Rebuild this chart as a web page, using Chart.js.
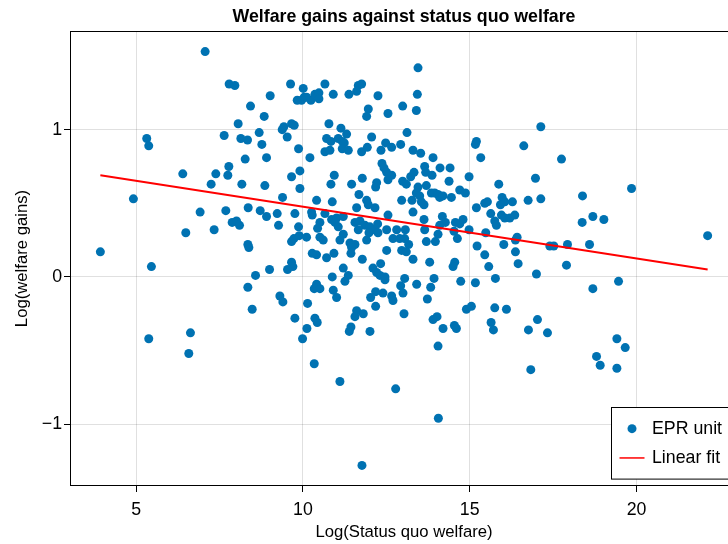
<!DOCTYPE html>
<html>
<head>
<meta charset="utf-8">
<script src="https://cdn.jsdelivr.net/npm/chart.js@4/dist/chart.umd.min.js"></script>
<style>
  html, body { margin: 0; padding: 0; background: #fff; overflow: hidden; }
  canvas { display: block; }
</style>
</head>
<body>
<canvas id="chart" width="760" height="544"></canvas>
<script>
// Log status quo welfare per EPR unit (x) and log welfare gains (y), paired by index
const statusQuoWelfare = [
  7.07,5.32,5.38,6.40,4.92,3.93,5.46,6.49,6.63,5.38,
  6.58,13.45,17.13,17.75,16.97,19.85,10.12,10.43,9.99,11.44,
  11.39,12.01,14.20,14.54,14.60,15.64,15.71,14.05,10.34,11.11,
  12.78,14.06,11.77,17.13,18.38,18.37,18.69,19.02,22.13,17.40,
  17.52,17.93,18.59,17.90,17.00,19.46,18.69,17.03,16.76,17.33,
  19.41,19.66,18.80,18.91,19.41,16.83,
  7.79,7.96,9.63,10.01,9.02,9.83,9.96,10.04,8.43,8.84,
  8.06,9.66,9.74,9.43,9.38,7.64,8.69,8.14,8.34,9.53,
  8.77,9.87,8.27,8.91,7.78,7.39,7.75,9.66,9.91,7.25,
  8.17,8.86,9.91,9.39,6.92,7.69,8.36,8.72,8.91,9.23,
  9.76,7.88,8.01,8.10,7.34,9.27,9.87,9.66,9.73,9.89,
  8.35,8.38,9.66,9.70,9.54,9.00,8.58,8.35,9.31,9.40,
  8.48,9.76,
  10.66,11.66,11.76,11.61,11.38,12.25,10.91,10.11,10.24,10.36,
  10.48,10.48,11.96,11.91,12.55,12.99,10.78,11.14,11.31,13.12,
  10.71,10.84,11.06,11.18,11.24,12.06,12.48,12.66,12.93,10.66,
  10.81,11.18,11.36,11.76,11.93,12.34,13.30,10.21,12.37,12.43,
  12.51,12.66,12.55,10.94,11.78,10.84,11.46,12.21,12.18,12.99,
  13.10,13.23,13.33,11.68,11.91,11.96,12.16,12.96,13.27,10.41,
  10.88,11.61,12.55,13.30,10.26,10.28,10.66,10.86,11.01,10.96,
  11.06,11.21,11.56,11.71,11.86,11.66,12.01,12.16,12.24,12.25,
  12.51,12.81,13.07,10.51,10.44,10.51,10.61,10.11,11.21,11.41,
  11.56,11.46,11.44,11.11,11.91,11.98,12.70,12.90,13.05,13.17,
  12.51,12.96,13.10,10.28,10.41,10.71,10.93,11.78,13.30,12.33,
  12.10,12.21,12.31,12.46,12.46,11.21,11.36,11.26,10.88,10.41,
  10.34,10.51,13.05,12.93,10.91,11.01,12.18,12.40,12.66,12.70,
  13.00,12.03,12.18,10.14,11.61,11.56,11.81,13.03,10.36,
  13.43,13.40,15.20,15.17,16.62,15.33,13.53,13.90,13.65,13.68,
  13.87,14.11,14.41,14.98,14.38,13.45,13.70,13.40,13.50,13.55,
  13.63,13.85,13.95,14.05,14.10,14.20,14.45,14.70,14.87,15.87,
  15.97,16.05,15.92,16.28,16.75,15.45,15.53,15.20,15.63,15.95,
  16.05,16.20,16.35,15.75,15.80,13.63,14.18,14.27,14.10,14.57,
  14.70,14.80,13.65,14.05,14.53,14.98,15.48,14.63,13.70,13.97,
  15.22,16.42,16.37,16.02,16.37,15.45,16.45,14.55,14.50,13.80,
  15.57,13.93,13.83,13.41,14.73,15.17,15.77,13.73,14.02,13.90,
  14.90,15.05,15.75,16.10
];
const welfareGains = [
  1.53,0.94,0.89,0.70,0.53,0.17,0.07,0.30,-0.38,-0.42,
  -0.52,1.42,1.02,0.80,0.67,0.60,-0.35,-0.31,-0.42,-0.34,
  -0.37,-0.37,-0.35,-0.33,-0.35,-0.31,-0.36,-0.47,-0.59,-0.71,
  -0.76,-0.96,-1.28,0.53,0.55,0.37,0.41,0.39,0.28,0.21,
  0.21,0.22,0.22,0.08,0.02,-0.03,-0.08,-0.29,-0.36,-0.38,
  -0.42,-0.48,-0.54,-0.60,-0.62,-0.63,
  1.31,1.30,1.31,1.28,1.23,1.20,1.20,1.22,1.16,1.09,
  1.04,1.04,1.03,1.02,1.00,0.96,0.98,0.94,0.93,0.95,
  0.90,0.87,0.80,0.81,0.75,0.70,0.69,0.68,0.72,0.63,
  0.63,0.62,0.60,0.54,0.44,0.45,0.47,0.45,0.41,0.43,
  0.43,0.37,0.38,0.35,0.32,0.35,0.34,0.24,0.26,0.28,
  0.22,0.20,0.10,0.07,0.05,0.05,0.01,-0.07,-0.13,-0.17,
  -0.22,-0.28,
  1.31,1.30,1.31,1.26,1.24,1.23,1.24,1.22,1.20,1.24,
  1.25,1.21,1.14,1.09,1.11,1.16,1.04,1.01,0.97,0.98,
  0.94,0.92,0.94,0.92,0.91,0.95,0.91,0.88,0.90,0.85,
  0.86,0.87,0.86,0.85,0.88,0.86,0.86,0.81,0.77,0.74,
  0.71,0.69,0.66,0.69,0.67,0.63,0.63,0.64,0.61,0.65,
  0.63,0.68,0.71,0.56,0.52,0.49,0.47,0.52,0.52,0.52,
  0.51,0.47,0.42,0.44,0.44,0.42,0.43,0.39,0.40,0.37,
  0.34,0.41,0.37,0.38,0.35,0.32,0.34,0.32,0.36,0.30,
  0.32,0.32,0.32,0.37,0.33,0.27,0.25,0.27,0.29,0.23,
  0.22,0.20,0.16,0.25,0.25,0.30,0.26,0.26,0.26,0.22,
  0.18,0.18,0.17,0.16,0.15,0.13,0.16,0.12,0.12,0.09,
  0.06,0.03,0.01,0.00,-0.02,0.06,0.01,-0.03,0.00,-0.05,
  -0.08,-0.08,-0.01,-0.06,-0.09,-0.14,-0.10,-0.11,-0.13,-0.16,
  -0.11,-0.14,-0.20,-0.18,-0.23,-0.27,-0.25,-0.25,-0.28,
  1.24,1.13,0.92,0.90,0.89,0.81,0.84,0.81,0.75,0.71,
  0.69,0.74,0.74,0.68,0.65,0.61,0.62,0.57,0.55,0.51,
  0.49,0.57,0.57,0.56,0.54,0.55,0.54,0.59,0.57,0.63,
  0.54,0.51,0.49,0.51,0.52,0.50,0.51,0.47,0.43,0.42,
  0.40,0.40,0.42,0.38,0.35,0.39,0.41,0.37,0.35,0.37,
  0.36,0.39,0.32,0.29,0.31,0.32,0.30,0.26,0.24,0.24,
  0.21,0.27,0.25,0.22,0.17,0.15,0.09,0.10,0.07,0.10,
  0.07,-0.01,-0.07,-0.05,-0.03,-0.04,-0.01,-0.15,-0.27,-0.29,
  -0.22,-0.20,-0.21,-0.22
];

// End points of the fitted regression line
const fitX = [3.93, 22.13];
const fitY = [0.69, 0.05];

// Axis ticks
const xTickValues = [5, 10, 15, 20];
const yTickValues = [-1, 0, 1];

const seriesNames = ['EPR unit', 'Linear fit'];

const FONT = "'Liberation Sans', Arial, Helvetica, sans-serif";
const FONT_SIZE = 17.75;
const AXIS_TITLE_SIZE = 16.7;
const POINT_COLOR = 'rgb(0,114,178)';
const FIT_COLOR = '#ff0000';
const GRID_COLOR = 'rgba(0,0,0,0.12)';

const scatterPoints = statusQuoWelfare.map((x, i) => ({ x, y: welfareGains[i] }));
const fitPoints = fitX.map((x, i) => ({ x, y: fitY[i] }));

const fmtTick = v => (v < 0 ? '\u2212' + Math.abs(v) : String(v));

// Full box around the plotting area
const axisFrame = {
  id: 'axisFrame',
  afterDraw(chart) {
    const { ctx, chartArea: a } = chart;
    ctx.save();
    ctx.strokeStyle = '#000';
    ctx.lineWidth = 1;
    ctx.strokeRect(a.left + 0.5, a.top + 0.5, a.right - a.left - 1, a.bottom - a.top - 1);
    ctx.restore();
  }
};

// Legend boxed in the lower right corner of the plotting area
const insetLegend = {
  id: 'insetLegend',
  afterDraw(chart) {
    const { ctx, chartArea: a } = chart;
    const sets = chart.data.datasets;
    ctx.save();
    ctx.font = FONT_SIZE + 'px ' + FONT;
    const textW = Math.max(...sets.map(d => ctx.measureText(d.label).width));
    const padL = 8, symW = 25, gap = 7.5, padR = 9, padV = 6.5, rowH = 29.3;
    const w = padL + symW + gap + textW + padR;
    const h = padV * 2 + rowH * sets.length;
    const right = a.right - 7, bottom = a.bottom - 7;
    const left = Math.round(right - w) + 0.5, top = Math.round(bottom - h) + 0.5;
    ctx.fillStyle = '#fff';
    ctx.fillRect(left, top, w, h);
    ctx.strokeStyle = '#000';
    ctx.lineWidth = 1;
    ctx.strokeRect(left, top, w, h);
    sets.forEach((d, i) => {
      const cy = top + padV + rowH * (i + 0.5);
      const cx = left + padL + symW / 2;
      if (d.showLine) {
        ctx.strokeStyle = d.borderColor;
        ctx.lineWidth = 1.5;
        ctx.beginPath();
        ctx.moveTo(left + padL, cy);
        ctx.lineTo(left + padL + symW, cy);
        ctx.stroke();
      } else {
        ctx.fillStyle = d.backgroundColor;
        ctx.beginPath();
        ctx.arc(cx, cy, d.pointRadius, 0, Math.PI * 2);
        ctx.fill();
      }
      ctx.fillStyle = '#000';
      ctx.textBaseline = 'middle';
      ctx.textAlign = 'left';
      ctx.fillText(d.label, left + padL + symW + gap, cy);
    });
    ctx.restore();
  }
};

new Chart(document.getElementById('chart'), {
  type: 'scatter',
  data: {
    datasets: [
      {
        label: seriesNames[0],
        data: scatterPoints,
        backgroundColor: POINT_COLOR,
        borderWidth: 0,
        pointRadius: 4.5,
        pointHoverRadius: 4.5,
        order: 1
      },
      {
        label: seriesNames[1],
        data: fitPoints,
        showLine: true,
        borderColor: FIT_COLOR,
        backgroundColor: FIT_COLOR,
        borderWidth: 2,
        pointRadius: 0,
        fill: false,
        order: 0
      }
    ]
  },
  options: {
    responsive: false,
    animation: false,
    devicePixelRatio: 1,
    events: [],
    layout: { padding: { left: 0, right: 22, top: 0, bottom: 0 } },
    plugins: {
      legend: { display: false },
      tooltip: { enabled: false },
      title: {
        display: true,
        text: 'Welfare gains against status quo welfare',
        fullSize: false,
        color: '#000',
        font: { family: FONT, size: FONT_SIZE, weight: 'bold' },
        padding: { top: 6.35, bottom: 3.35 }
      }
    },
    scales: {
      x: {
        type: 'linear',
        min: 3.02,
        max: 23.04,
        afterBuildTicks: s => { s.ticks = xTickValues.map(v => ({ value: v })); },
        afterFit: s => { s.height = 58; },
        ticks: {
          color: '#000',
          font: { family: FONT, size: FONT_SIZE },
          padding: 7.35,
          maxRotation: 0,
          callback: v => fmtTick(v)
        },
        grid: {
          color: GRID_COLOR,
          lineWidth: 1,
          drawTicks: true,
          tickLength: 6,
          tickColor: '#000',
          tickWidth: 1
        },
        border: { display: false },
        title: {
          display: true,
          text: 'Log(Status quo welfare)',
          color: '#000',
          font: { family: FONT, size: AXIS_TITLE_SIZE },
          padding: { top: 0, bottom: 2 }
        }
      },
      y: {
        type: 'linear',
        min: -1.42,
        max: 1.67,
        afterBuildTicks: s => { s.ticks = yTickValues.map(v => ({ value: v })); },
        afterFit: s => { s.width = 70; },
        ticks: {
          color: '#000',
          font: { family: FONT, size: FONT_SIZE },
          padding: 2,
          callback: v => fmtTick(v)
        },
        grid: {
          color: GRID_COLOR,
          lineWidth: 1,
          drawTicks: true,
          tickLength: 6,
          tickColor: '#000',
          tickWidth: 1
        },
        border: { display: false },
        title: {
          display: true,
          text: 'Log(welfare gains)',
          color: '#000',
          font: { family: FONT, size: AXIS_TITLE_SIZE },
          padding: { top: 12, bottom: 0 }
        }
      }
    }
  },
  plugins: [axisFrame, insetLegend]
});
</script>
</body>
</html>
